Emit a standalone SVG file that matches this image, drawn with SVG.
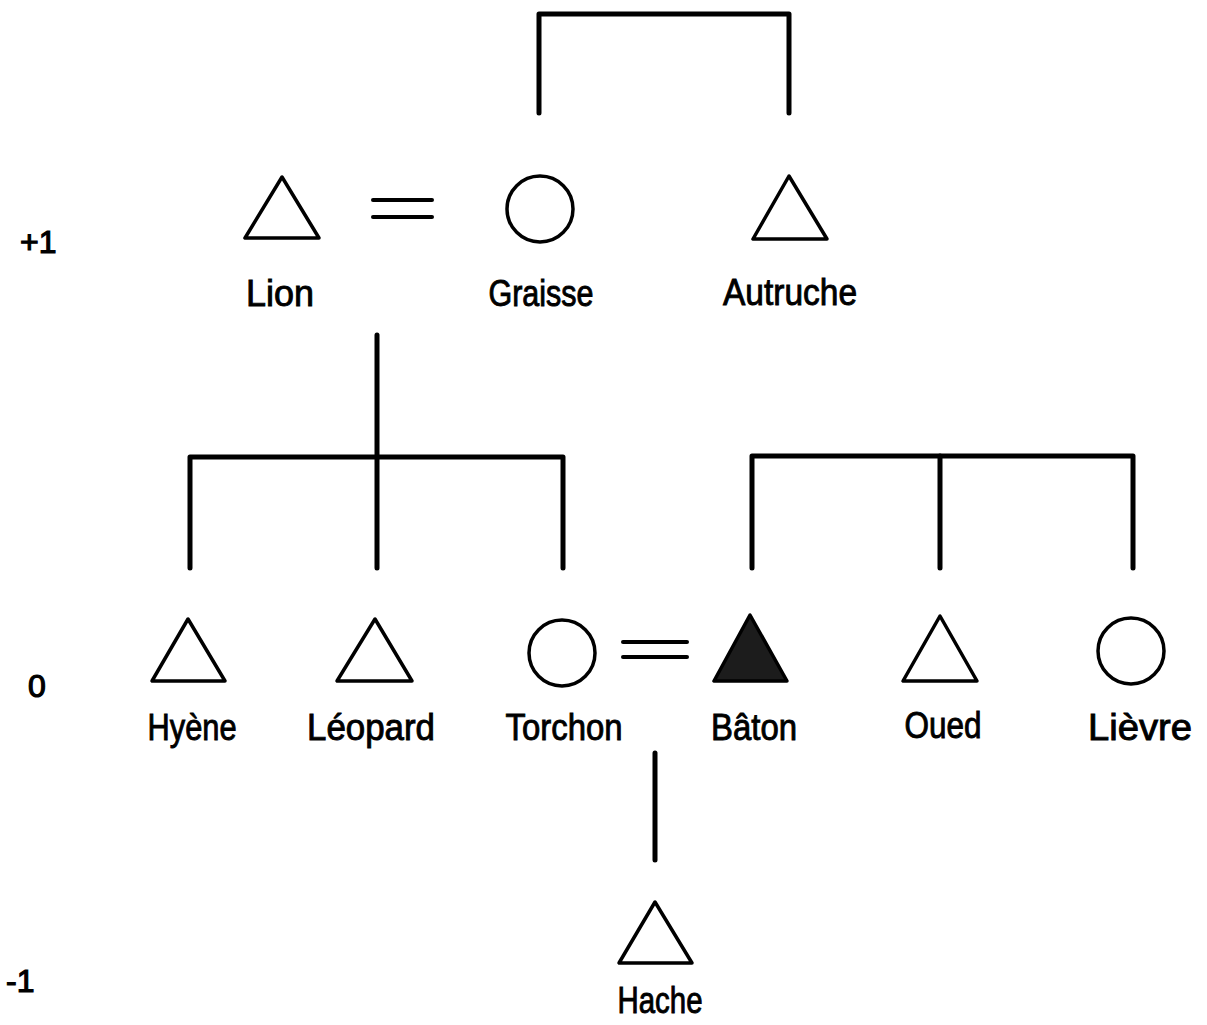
<svg xmlns="http://www.w3.org/2000/svg" width="1207" height="1025" viewBox="0 0 1207 1025">
<style>
.bg{fill:#fff}
.shape{fill:none;stroke:#000;stroke-width:3.5;stroke-linejoin:round}
.filled{fill:#1c1c1c;stroke:#000;stroke-width:3.5;stroke-linejoin:round}
.conn{fill:none;stroke:#000;stroke-width:5;stroke-linecap:round;stroke-linejoin:round}
.eq{stroke:#000;stroke-width:4;stroke-linecap:round}
.lbl{font-family:"Liberation Sans",Arial,sans-serif;font-size:36px;fill:#000;stroke:#000;stroke-width:0.9;text-anchor:middle}
.gen{font-family:"Liberation Sans",Arial,sans-serif;font-size:32px;fill:#000;stroke:#000;stroke-width:1.2}
</style>
<rect class="bg" x="0" y="0" width="1207" height="1025"/>
<g id="connectors">
<path class="conn" d="M539,113 V14 H789 V113"/>
<path class="conn" d="M377,335 V568"/>
<path class="conn" d="M190,568 V457 H563 V568"/>
<path class="conn" d="M752,568 V456 H1133 V568"/>
<path class="conn" d="M940,456 V568"/>
<path class="conn" d="M655,753 V860"/>
<line class="eq" x1="373" y1="200" x2="432" y2="200"/>
<line class="eq" x1="373" y1="217" x2="432" y2="217"/>
<line class="eq" x1="623" y1="642" x2="687" y2="642"/>
<line class="eq" x1="623" y1="657" x2="687" y2="657"/>
</g>
<g id="gen-labels">
<text class="gen" x="20" y="253">+1</text>
<text class="gen" x="28" y="697">0</text>
<text class="gen" x="6" y="992">-1</text>
</g>
<g id="lion"><polygon class="shape" points="282,177 245,238 319,238"/><text class="lbl" x="280" y="306" textLength="68" lengthAdjust="spacingAndGlyphs">Lion</text></g>
<g id="graisse"><circle class="shape" cx="540" cy="209" r="33"/><text class="lbl" x="541" y="306" textLength="105" lengthAdjust="spacingAndGlyphs">Graisse</text></g>
<g id="autruche"><polygon class="shape" points="789,176 753,239 827,239"/><text class="lbl" x="790" y="305" textLength="134" lengthAdjust="spacingAndGlyphs">Autruche</text></g>
<g id="hyene"><polygon class="shape" points="188,619 152,681 225,681"/><text class="lbl" x="192" y="740" textLength="89" lengthAdjust="spacingAndGlyphs">Hyène</text></g>
<g id="leopard"><polygon class="shape" points="375,619 337,681 412,681"/><text class="lbl" x="371" y="740" textLength="128" lengthAdjust="spacingAndGlyphs">Léopard</text></g>
<g id="torchon"><circle class="shape" cx="562" cy="653" r="33"/><text class="lbl" x="564" y="740" textLength="117" lengthAdjust="spacingAndGlyphs">Torchon</text></g>
<g id="baton"><polygon class="filled" points="750,615 714,681 787,681"/><text class="lbl" x="754" y="740" textLength="86" lengthAdjust="spacingAndGlyphs">Bâton</text></g>
<g id="oued"><polygon class="shape" points="940,616 903,681 977,681"/><text class="lbl" x="943" y="738" textLength="77" lengthAdjust="spacingAndGlyphs">Oued</text></g>
<g id="lievre"><circle class="shape" cx="1131" cy="651" r="33"/><text class="lbl" x="1140" y="740" textLength="104" lengthAdjust="spacingAndGlyphs">Lièvre</text></g>
<g id="hache"><polygon class="shape" points="655,902 619,963 692,963"/><text class="lbl" x="660" y="1013" textLength="85" lengthAdjust="spacingAndGlyphs">Hache</text></g>
</svg>
